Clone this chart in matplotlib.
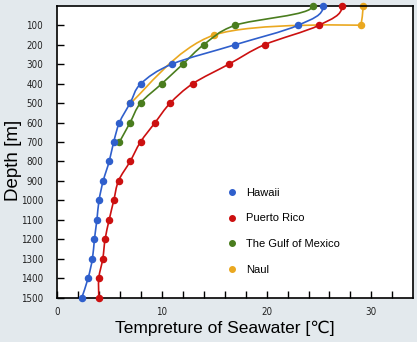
import matplotlib
matplotlib.use("Agg")
import matplotlib.pyplot as plt
from matplotlib.path import Path
from matplotlib.patches import PathPatch
from matplotlib.lines import Line2D

# Data (temperature in degC, depth in m)
hawaii_depth = [0, 100, 200, 300, 400, 500, 600, 700, 800, 900, 1000, 1100, 1200, 1300, 1400, 1500]
hawaii_temp = [25.4, 23.0, 17.0, 10.95, 8.0, 6.97, 5.95, 5.4, 4.97, 4.4, 4.0, 3.8, 3.56, 3.37, 2.96, 2.36]

puerto_depth = [0, 100, 200, 300, 400, 500, 600, 700, 800, 900, 1000, 1100, 1200, 1300, 1400, 1500]
puerto_temp = [27.2, 25.0, 19.8, 16.4, 12.96, 10.8, 9.36, 7.96, 6.97, 5.86, 5.41, 4.97, 4.58, 4.36, 3.98, 3.98]

gulf_depth = [0, 100, 200, 300, 400, 500, 600, 700]
gulf_temp = [24.4, 17.0, 14.0, 12.0, 10.0, 7.96, 6.97, 5.95]

naul_depth = [0, 100, 150, 500]
naul_temp = [29.2, 29.0, 15.0, 7.0]

names = ["Hawaii", "Puerto Rico", "The Gulf of Mexico", "Naul"]
colors = ["#2f5fcc", "#cc1010", "#4a7d1e", "#eaa820"]

label_font = ["Liberation Sans", "DejaVu Sans"]


def smooth_path(xs, ys, corners=()):
    # Catmull-Rom through the points, as cubic bezier pieces
    # (curves leave the surface point heading straight down)
    pts = list(zip(xs, ys))
    verts = [pts[0]]
    codes = [Path.MOVETO]
    for i in range(len(pts) - 1):
        p0 = pts[i - 1] if i > 0 else pts[i]
        p1 = pts[i]
        p2 = pts[i + 1]
        p3 = pts[i + 2] if i + 2 < len(pts) else pts[i + 1]
        c1 = (p1[0] + (p2[0] - p0[0]) / 6, p1[1] + (p2[1] - p0[1]) / 6)
        c2 = (p2[0] - (p3[0] - p1[0]) / 6, p2[1] - (p3[1] - p1[1]) / 6)
        if i == 0:
            c1 = (p1[0], p1[1] + 0.5 * (p2[1] - p1[1]))
        if i in corners:
            c1 = p1
        if i + 1 in corners:
            c2 = p2
        verts += [c1, c2, p2]
        codes += [Path.CURVE4] * 3
    return Path(verts, codes)


fig = plt.figure(figsize=(4.17, 3.42), dpi=100)
fig.patch.set_facecolor("#e3e9ed")
ax = fig.add_axes([0.137, 0.13, 0.854, 0.853])
ax.set_facecolor("white")

series = [
    (hawaii_temp, hawaii_depth, ()),
    (puerto_temp, puerto_depth, ()),
    (gulf_temp, gulf_depth, ()),
    (naul_temp, naul_depth, (1,)),
]
zorders = [5, 4, 3, 2]

for (t, d, cn), c, z in zip(series, colors, zorders):
    ax.add_patch(PathPatch(smooth_path(t, d, cn), facecolor="none", edgecolor=c,
                           lw=1.2, zorder=z, clip_on=False))
    ax.plot(t, d, "o", color=c, ms=4.4, zorder=z + 0.5, clip_on=False)

ax.set_xlim(0, 34)
ax.set_ylim(1500, 0)
ax.set_xticks([0, 10, 20, 30])
ax.set_xticks(range(0, 34, 2), minor=True)
ax.set_yticks(range(100, 1600, 100))

for s in ax.spines.values():
    s.set_linewidth(1.2)
    s.set_color("black")

ax.tick_params(axis="both", which="both", direction="in", length=5, width=1, color="black")
ax.tick_params(axis="x", pad=7)
ax.tick_params(axis="y", pad=10)
for lab in ax.get_xticklabels() + ax.get_yticklabels():
    lab.set_family("DejaVu Sans")
    lab.set_stretch("condensed")
    lab.set_fontsize(7)
    lab.set_color("#222222")

ax.set_xlabel("Tempreture of Seawater [\u2103]", family=label_font, fontsize=12.5)
ax.xaxis.set_label_coords(0.47, -0.078)
ax.set_ylabel("Depth [m]", family=label_font, fontsize=13.5)
ax.yaxis.set_label_coords(-0.1, 0.47)

handles = [Line2D([], [], ls="none", marker="o", ms=4, color=c) for c in colors]
ax.legend(handles, names, loc="upper left", bbox_to_anchor=(0.45, 0.41),
          frameon=False, handlelength=0.8, handletextpad=0.9, labelspacing=1.4,
          prop={"family": label_font, "size": 8})

fig.savefig("out.png", dpi=100, facecolor=fig.get_facecolor())
